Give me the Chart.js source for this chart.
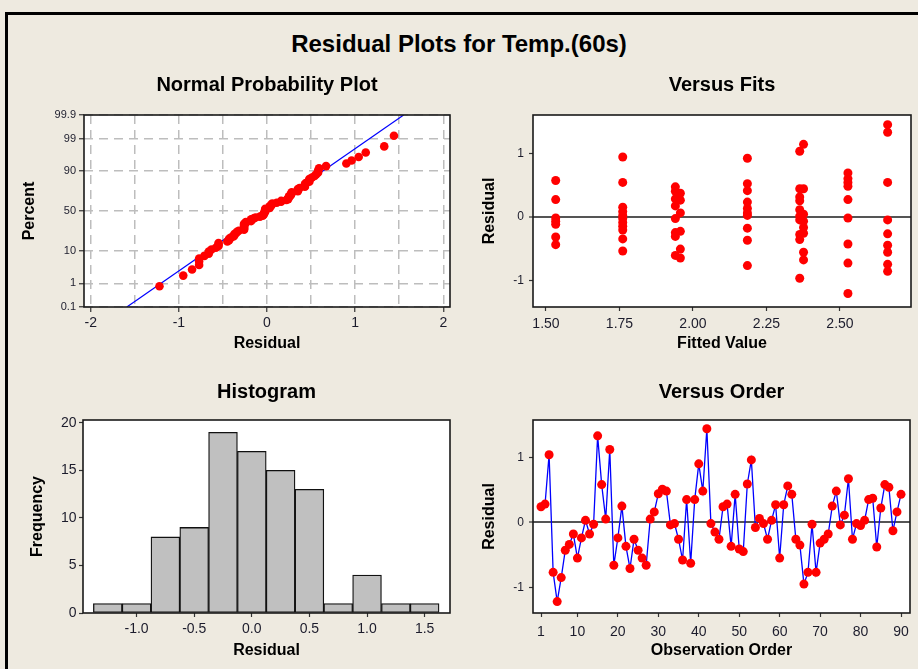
<!DOCTYPE html>
<html><head><meta charset="utf-8">
<title>Residual Plots for Temp.(60s)</title>
<script src="https://cdn.jsdelivr.net/npm/chart.js@4.4.1/dist/chart.umd.min.js"></script>
<style>
html,body{margin:0;padding:0}
body{width:918px;height:669px;background:#EEEAE0;position:relative;overflow:hidden}
#frame{position:absolute;left:5px;top:12px;width:940px;height:700px;border-left:3px solid #000;border-top:3px solid #000;box-sizing:border-box}
#mainTitle{position:absolute;left:0;top:30px;width:918px;text-align:center;font:bold 24px/28px "Liberation Sans",Arial,sans-serif;color:#000;margin:0}
canvas{position:absolute}
</style></head><body>
<div id="frame"></div>
<h1 id="mainTitle">Residual Plots for Temp.(60s)</h1>
<canvas id="npp" width="459" height="305" style="left:0;top:60px"></canvas>
<canvas id="fits" width="459" height="305" style="left:459px;top:60px"></canvas>
<canvas id="hist" width="459" height="304" style="left:0;top:365px"></canvas>
<canvas id="order" width="459" height="304" style="left:459px;top:365px"></canvas>
<script>
// ---------------- data ----------------
// residuals in observation order (1..90)
const observationResiduals = [
  0.24, 0.28, 1.04,-0.77,-1.22,-0.85,-0.43,-0.34,-0.18,-0.55,
 -0.24, 0.03,-0.18,-0.03, 1.33, 0.58, 0.05, 1.12,-0.66,-0.24,
  0.25,-0.37,-0.71,-0.26,-0.43,-0.55,-0.66, 0.05, 0.16, 0.44,
  0.51, 0.48,-0.04,-0.02,-0.26,-0.58, 0.35,-0.63, 0.35, 0.90,
  0.48, 1.44,-0.02,-0.15,-0.26, 0.24, 0.28,-0.37, 0.43,-0.41,
 -0.45, 0.59, 0.96,-0.08, 0.06,-0.02,-0.26, 0.03, 0.27,-0.55,
  0.27, 0.56, 0.43,-0.26,-0.35,-0.95,-0.77,-0.03,-0.77,-0.32,
 -0.26,-0.18, 0.25, 0.48,-0.04, 0.11, 0.67,-0.26,-0.02,-0.05,
  0.03, 0.35, 0.37,-0.38, 0.22, 0.58, 0.54,-0.13, 0.16, 0.43];

// Versus Fits: fitted-value levels and the residuals seen at each level
const fitLevels = [1.533, 1.761, 1.940, 1.957, 2.185, 2.363, 2.376, 2.527, 2.662];
const fitResidualsByLevel = [
  [0.57, 0.27, -0.02, -0.07, -0.12, -0.32, -0.44],
  [0.94, 0.54, 0.15, 0.08, 0.02, -0.03, -0.09, -0.15, -0.21, -0.35, -0.54],
  [0.47, 0.40, 0.28, 0.17, -0.03, -0.25, -0.31, -0.61],
  [0.37, 0.26, 0.06, -0.23, -0.51, -0.65],
  [0.92, 0.52, 0.41, 0.23, 0.13, 0.06, 0.02, -0.18, -0.37, -0.77],
  [1.03, 0.44, 0.31, 0.25, 0.11, 0.01, -0.05, -0.28, -0.36, -0.97],
  [1.14, 0.44, 0.04, -0.07, -0.17, -0.26, -0.56, -0.68],
  [0.69, 0.60, 0.54, 0.48, 0.27, -0.02, -0.43, -0.73, -1.21],
  [1.45, 1.33, 0.54, -0.05, -0.27, -0.45, -0.56, -0.75, -0.86]];

// Histogram
const histBinCenters = [-1.25, -1.0, -0.75, -0.5, -0.25, 0, 0.25, 0.5, 0.75, 1.0, 1.25, 1.5];
const histCounts     = [1, 1, 8, 9, 19, 17, 15, 13, 1, 4, 1, 1];

// Normal probability plot reference line (end points)
const npLineResidual = [-1.59, 1.55];
const npLinePercent  = [0.1, 99.9];

// Tick labels
const nppPercentTicks  = [0.1, 1, 10, 50, 90, 99, 99.9];
const nppResidualGrid  = [-2, -1.5, -1, -0.5, 0, 0.5, 1, 1.5, 2];
const fitsTickValues   = [1.50, 1.75, 2.00, 2.25, 2.50];
const residualTicks    = [-1, 0, 1];
const histXTicks       = [-1.0, -0.5, 0.0, 0.5, 1.0, 1.5];
const histYTicks       = [0, 5, 10, 15, 20];
const orderTickValues  = [1, 10, 20, 30, 40, 50, 60, 70, 80, 90];

// ---------------- helpers ----------------
const FONT = '"Liberation Sans", Arial, sans-serif';
const INK = '#1c1c2c';
Chart.defaults.font.family = FONT;
Chart.defaults.color = INK;

function probit(p){
  const a=[-3.969683028665376e+01,2.209460984245205e+02,-2.759285104469687e+02,1.383577518672690e+02,-3.066479806614716e+01,2.506628277459239e+00];
  const b=[-5.447609879822406e+01,1.615858368580409e+02,-1.556989798598866e+02,6.680131188771972e+01,-1.328068155288572e+01];
  const c=[-7.784894002430293e-03,-3.223964580411365e-01,-2.400758277161838e+00,-2.549732539343734e+00,4.374664141464968e+00,2.938163982698783e+00];
  const d=[7.784695709041462e-03,3.224671290700398e-01,2.445134137142996e+00,3.754408661907416e+00];
  const pl=0.02425, ph=1-pl; let q,r;
  if(p<pl){q=Math.sqrt(-2*Math.log(p));return (((((c[0]*q+c[1])*q+c[2])*q+c[3])*q+c[4])*q+c[5])/((((d[0]*q+d[1])*q+d[2])*q+d[3])*q+1);}
  if(p<=ph){q=p-0.5;r=q*q;return (((((a[0]*r+a[1])*r+a[2])*r+a[3])*r+a[4])*r+a[5])*q/(((((b[0]*r+b[1])*r+b[2])*r+b[3])*r+b[4])*r+1);}
  q=Math.sqrt(-2*Math.log(1-p));return -(((((c[0]*q+c[1])*q+c[2])*q+c[3])*q+c[4])*q+c[5])/((((d[0]*q+d[1])*q+d[2])*q+d[3])*q+1);
}

const plotFrame = {
  id:'plotFrame',
  beforeDraw(chart){const {ctx,chartArea:a}=chart;ctx.save();ctx.fillStyle='#ffffff';ctx.fillRect(a.left,a.top,a.width,a.height);ctx.restore();},
  afterDraw(chart){const {ctx,chartArea:a}=chart;ctx.save();ctx.strokeStyle='#1a1a1a';ctx.lineWidth=1.6;ctx.strokeRect(a.left,a.top,a.width,a.height);ctx.restore();}
};
function subTitle(text,pt,pb){return {display:true,text,fullSize:false,color:'#000',font:{family:FONT,size:20,weight:'bold',lineHeight:1.2},padding:{top:pt,bottom:pb}};}
function yTitle(text,pad){return {display:true,text,color:'#000',font:{family:FONT,size:16,weight:'bold',lineHeight:1.2},padding:{top:pad,bottom:0}};}
function xTitle(text,pad){return {display:true,text,color:'#000',font:{family:FONT,size:16,weight:'bold',lineHeight:1.2},padding:{top:0,bottom:pad}};}
function fixedTicks(values){return s=>{s.ticks=values.map(v=>({value:v}));};}
const base = {responsive:false,animation:false,events:[]};
const noLegend = {legend:{display:false},tooltip:{enabled:false}};
const plainGrid = {drawOnChartArea:false,tickLength:4,tickColor:'#333',tickWidth:1.2};
const zeroGrid = {color:c=>c.tick.value===0?'#555':'rgba(0,0,0,0)',lineWidth:c=>c.tick.value===0?2:1,tickLength:4,tickColor:'#333',tickWidth:1.2};

// ---------------- Normal Probability Plot ----------------
const nppSorted = observationResiduals.slice().sort((a,b)=>a-b);
const nppPoints = nppSorted.map((r,i)=>({x:r,y:probit((i+1-0.3)/(nppSorted.length+0.4))}));
const zMin = probit(nppPercentTicks[0]/100), zMax = probit(nppPercentTicks[nppPercentTicks.length-1]/100);

new Chart(document.getElementById('npp'),{
  type:'scatter',
  data:{datasets:[
    {data:nppPoints,pointRadius:4.3,backgroundColor:'#FF0000',pointBackgroundColor:'#FF0000',pointBorderWidth:0,showLine:false},
    {data:npLineResidual.map((x,i)=>({x,y:probit(npLinePercent[i]/100)})),showLine:true,borderColor:'#0000FF',borderWidth:1.2,pointRadius:0}
  ]},
  options:{...base,
    layout:{padding:{left:0,right:9,top:0,bottom:0}},
    plugins:{...noLegend,title:subTitle('Normal Probability Plot',13,18)},
    scales:{
      x:{type:'linear',min:-2.076,max:2.076,afterBuildTicks:fixedTicks(nppResidualGrid),afterFit:s=>{s.height=58;},
        ticks:{autoSkip:false,maxRotation:0,padding:3,font:{size:14},callback:v=>Number.isInteger(v)?String(v):''},
        grid:{drawOnChartArea:true,color:'#BDBDBD',lineWidth:1.5,tickLength:5,tickWidth:1.2,tickColor:c=>Number.isInteger(c.tick.value)?'#333':'rgba(0,0,0,0)'},
        border:{display:false,dash:[9,6]},
        title:xTitle('Residual',11.4)},
      y:{type:'linear',min:zMin,max:zMax,afterBuildTicks:s=>{s.ticks=nppPercentTicks.map(p=>({value:probit(p/100)}));},afterFit:s=>{s.width=84;},
        ticks:{autoSkip:false,padding:3,font:{size:11},callback:(v,i)=>String(nppPercentTicks[i])},
        grid:{color:'#BDBDBD',lineWidth:1.5,tickLength:5,tickWidth:1.2,tickColor:'#333'},
        border:{display:false,dash:[9,6]},
        title:yTitle('Percent',20.4)}
    }
  },
  plugins:[plotFrame]
});

// ---------------- Versus Fits ----------------
const fitPoints = fitLevels.flatMap((f,i)=>fitResidualsByLevel[i].map(r=>({x:f,y:r})));
new Chart(document.getElementById('fits'),{
  type:'scatter',
  data:{datasets:[{data:fitPoints,pointRadius:4.5,backgroundColor:'#FF0000',pointBackgroundColor:'#FF0000',pointBorderWidth:0}]},
  options:{...base,
    layout:{padding:{left:0,right:7,top:0,bottom:0}},
    plugins:{...noLegend,title:subTitle('Versus Fits',13,18)},
    scales:{
      x:{type:'linear',min:1.4558,max:2.7415,afterBuildTicks:fixedTicks(fitsTickValues),afterFit:s=>{s.height=58;},
        ticks:{autoSkip:false,maxRotation:0,padding:4.4,font:{size:14},callback:v=>v.toFixed(2)},
        grid:plainGrid,border:{display:false},title:xTitle('Fitted Value',11.4)},
      y:{type:'linear',min:-1.422,max:1.6016,afterBuildTicks:fixedTicks(residualTicks),afterFit:s=>{s.width=74;},
        ticks:{autoSkip:false,padding:5,font:{size:12},callback:v=>String(v)},
        grid:zeroGrid,border:{display:false},title:yTitle('Residual',21.4)}
    }
  },
  plugins:[plotFrame]
});

// ---------------- Histogram ----------------
new Chart(document.getElementById('hist'),{
  type:'bar',
  data:{datasets:[{data:histBinCenters.map((x,i)=>({x,y:histCounts[i]})),backgroundColor:'#C0C0C0',borderColor:'#111',borderWidth:1.3,borderSkipped:false,barPercentage:1,categoryPercentage:1}]},
  options:{...base,
    layout:{padding:{left:0,right:9,top:0,bottom:0}},
    plugins:{...noLegend,title:subTitle('Histogram',15,16)},
    scales:{
      x:{type:'linear',offset:false,min:-1.465,max:1.72,afterBuildTicks:fixedTicks(histXTicks),afterFit:s=>{s.height=56;},
        ticks:{autoSkip:false,maxRotation:0,padding:3.6,font:{size:14},callback:v=>v.toFixed(1)},
        grid:{...plainGrid,offset:false},border:{display:false},title:xTitle('Residual',8.4)},
      y:{type:'linear',min:0,max:20.3,afterBuildTicks:fixedTicks(histYTicks),afterFit:s=>{s.width=83;},
        ticks:{autoSkip:false,padding:2.5,font:{size:14},callback:v=>String(v)},
        grid:plainGrid,border:{display:false},title:yTitle('Frequency',28.4)}
    }
  },
  plugins:[plotFrame]
});

// ---------------- Versus Order ----------------
new Chart(document.getElementById('order'),{
  type:'scatter',
  data:{datasets:[{data:observationResiduals.map((r,i)=>({x:i+1,y:r})),showLine:true,tension:0,borderColor:'#0000FF',borderWidth:1.3,
    pointRadius:4.5,backgroundColor:'#FF0000',pointBackgroundColor:'#FF0000',pointBorderWidth:0}]},
  options:{...base,
    layout:{padding:{left:0,right:8,top:0,bottom:0}},
    plugins:{...noLegend,title:subTitle('Versus Order',15,16)},
    scales:{
      x:{type:'linear',min:-0.978,max:92.22,afterBuildTicks:fixedTicks(orderTickValues),afterFit:s=>{s.height=56;},
        ticks:{autoSkip:false,maxRotation:0,padding:6.3,font:{size:14},callback:v=>String(v)},
        grid:plainGrid,border:{display:false},title:xTitle('Observation Order',8.4)},
      y:{type:'linear',min:-1.395,max:1.574,afterBuildTicks:fixedTicks(residualTicks),afterFit:s=>{s.width=74;},
        ticks:{autoSkip:false,padding:5,font:{size:12},callback:v=>String(v)},
        grid:zeroGrid,border:{display:false},title:yTitle('Residual',21.4)}
    }
  },
  plugins:[plotFrame]
});
</script>
</body></html>
